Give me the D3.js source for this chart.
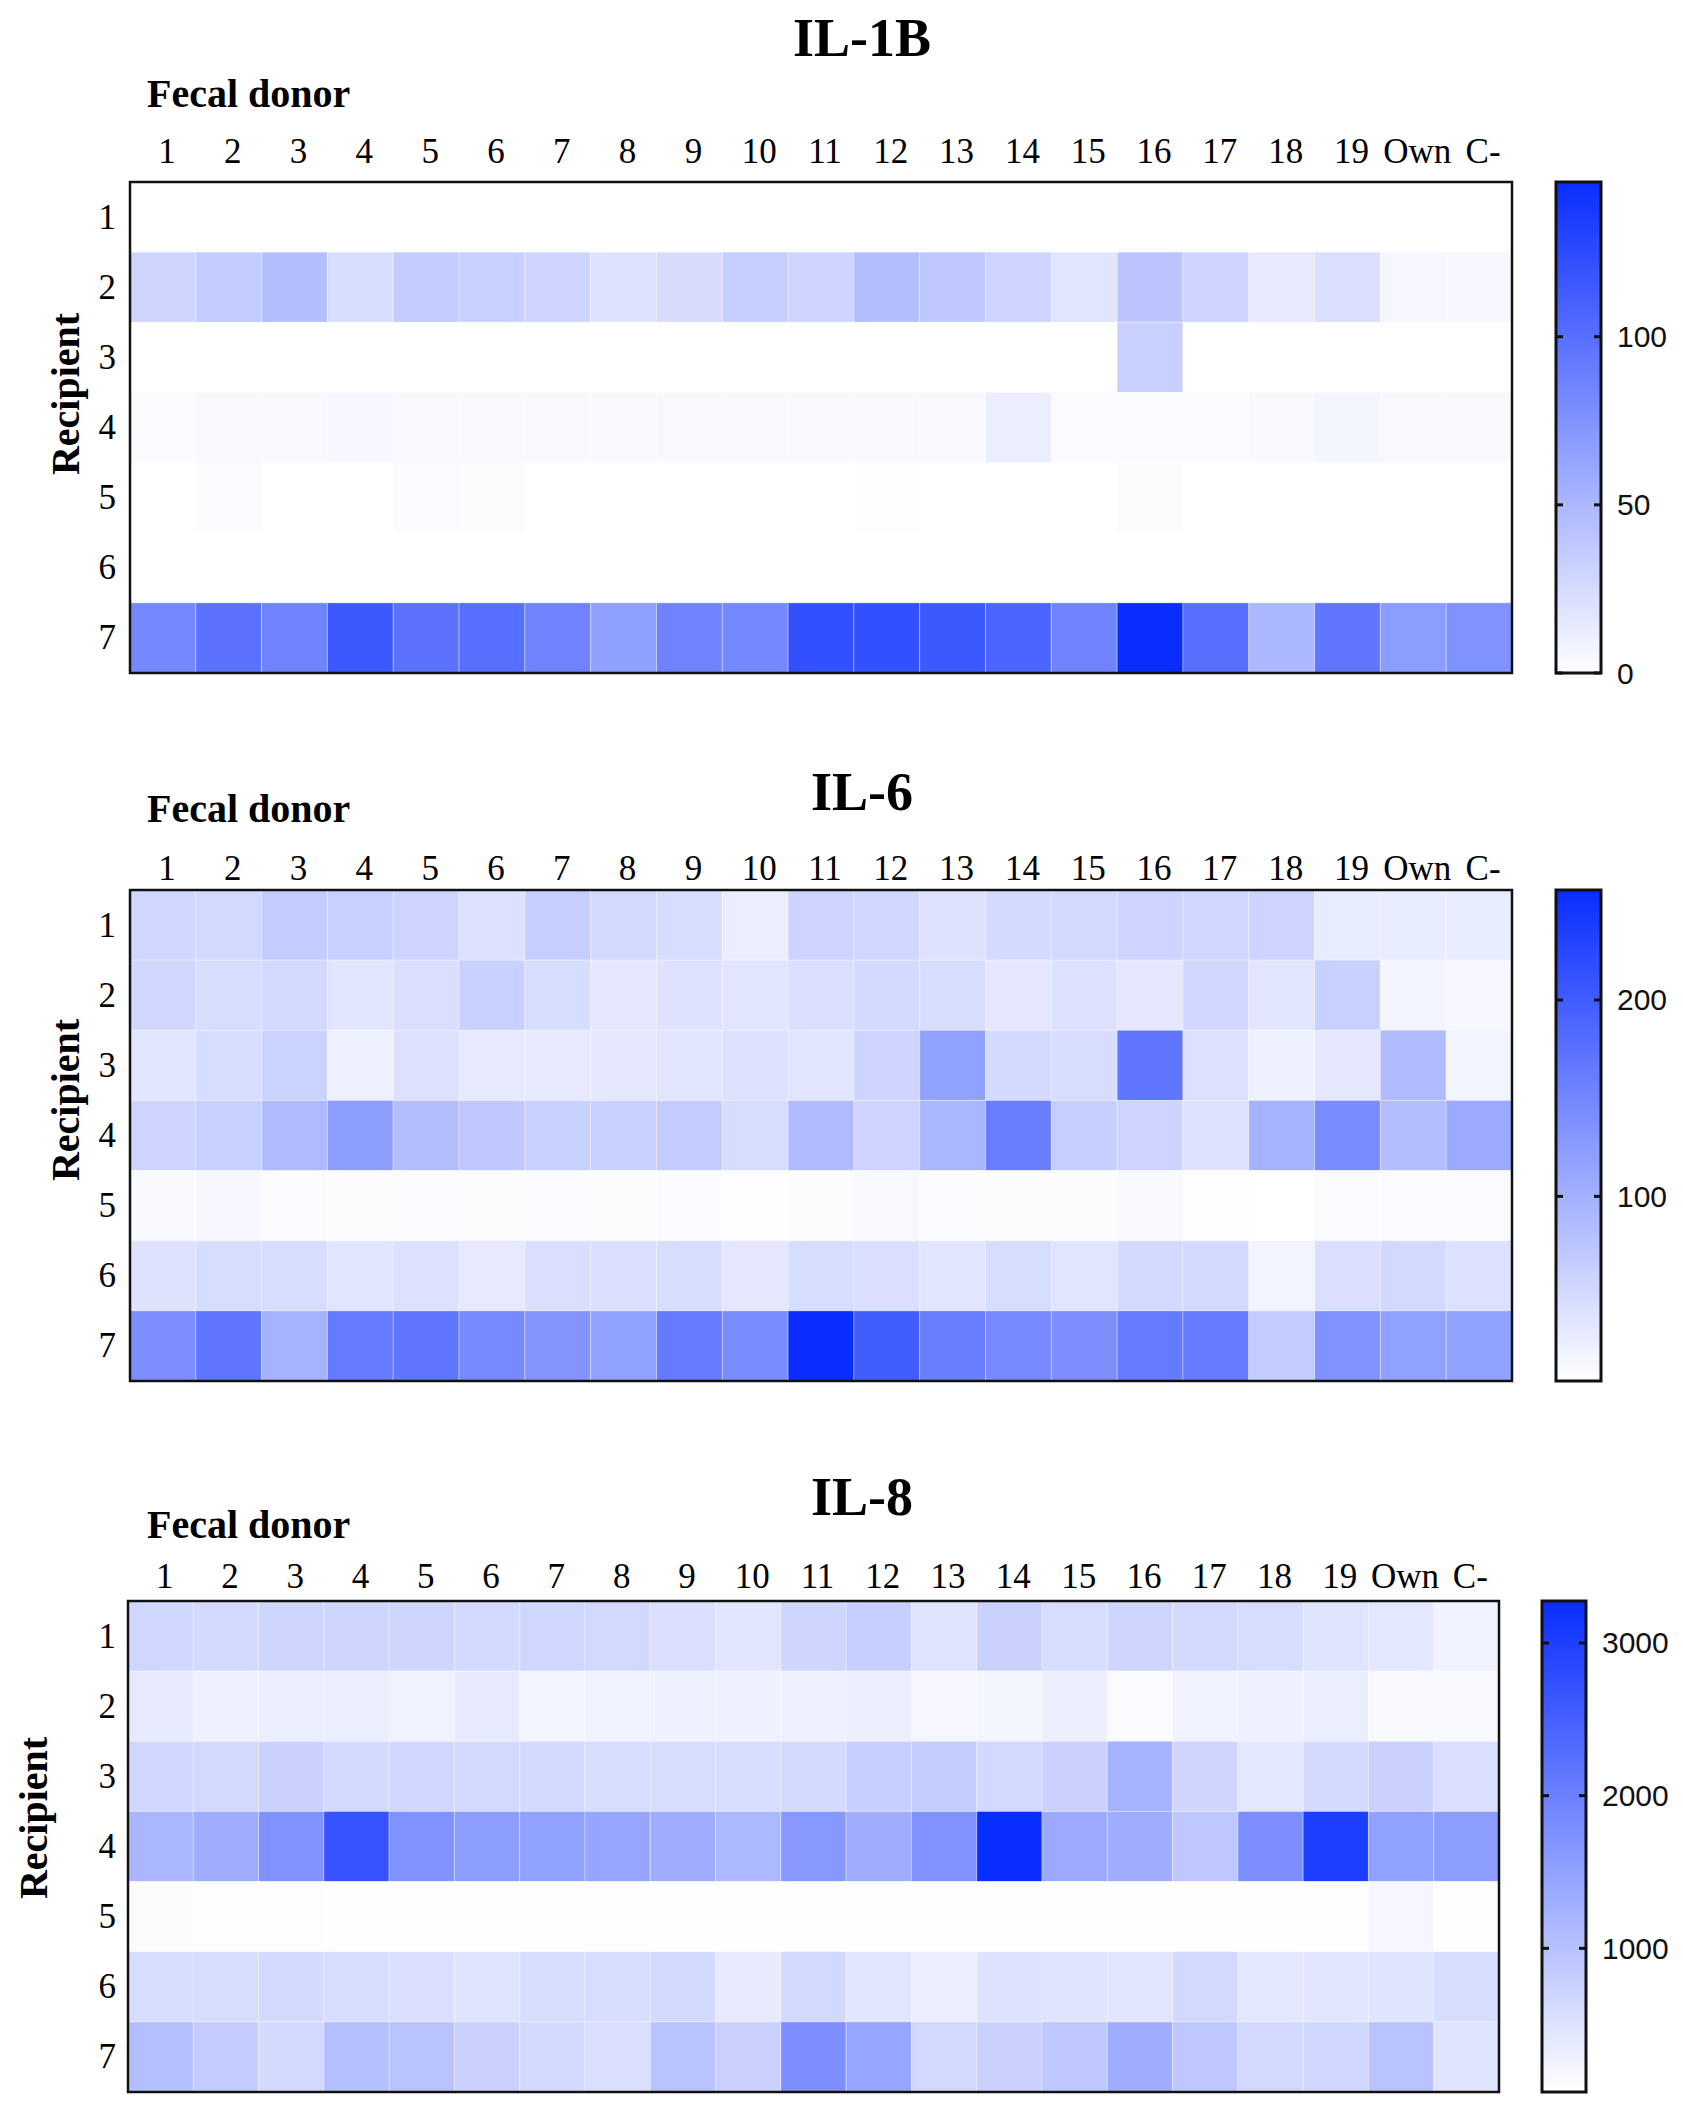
<!DOCTYPE html>
<html>
<head>
<meta charset="utf-8">
<script src="https://cdn.jsdelivr.net/npm/d3@7"></script>
<style>
  body { margin: 0; background: #fff; }
</style>
</head>
<body>
<div id="chart"></div>
<script>
// Data
const donors = ['1','2','3','4','5','6','7','8','9','10','11','12','13','14','15','16','17','18','19','Own','C-']
const recipients = ['1','2','3','4','5','6','7']

// IL-1B, one row per recipient
const il1b = [
	[0,0,0,0,0,0,0,0,0,0,0,0,0,0,0,0,0,0,0,0,0],
	[29,36,45,23,36,33,30,20,24,34,30,45,39,30,18,40,30,15,22,6,5],
	[0,0,0,0,0,0,0,0,0,0,0,0,0,0,0,33,0,0,0,0,0],
	[3,4,4,6,4,4,4,4,4,4,4,4,4,12,3,3,3,4,7,4,4],
	[0,3,0,0,3,2,0,0,0,0,0,1,0,0,0,2,0,0,0,0,0],
	[0,0,0,0,0,0,0,0,0,0,0,0,0,0,0,0,0,0,0,0,0],
	[83,98,86,116,98,100,86,66,86,83,122,122,116,107,86,146,100,50,95,68,76]
]
// IL-6
const il6 = [
	[54,52,67,62,57,42,64,52,47,26,57,54,40,50,52,57,54,57,29,29,29],
	[54,47,52,37,44,62,47,34,40,37,44,50,47,34,42,34,54,37,62,19,14],
	[37,47,60,23,42,32,32,34,37,42,37,57,118,50,47,169,42,23,34,88,19],
	[57,62,88,123,83,72,62,62,67,47,88,57,93,159,64,57,40,98,144,83,108],
	[12,15,11,9,10,9,10,9,10,8,9,13,10,9,9,13,8,6,11,11,11],
	[40,47,47,37,42,32,44,44,47,34,47,44,37,47,37,50,52,19,44,52,42],
	[139,169,98,164,169,146,133,118,164,144,256,200,159,146,139,164,164,67,136,118,118]
]
// IL-8
const il8 = [
	[670,625,700,700,700,625,670,650,545,450,700,790,480,760,580,700,625,580,480,410,255],
	[380,280,320,320,255,360,230,255,280,280,280,300,190,200,300,125,255,280,320,150,150],
	[670,650,760,625,670,650,625,580,580,580,625,790,820,650,760,1240,700,410,625,760,545],
	[1180,1310,1730,2690,1730,1570,1500,1440,1310,1150,1630,1310,1730,3275,1370,1310,910,1770,3020,1500,1570],
	[100,90,85,75,80,80,80,85,80,75,80,85,90,80,80,80,80,75,80,190,80],
	[580,580,625,580,545,480,580,580,625,360,650,450,320,510,480,450,650,410,450,480,580],
	[1040,840,625,1040,980,760,625,545,980,760,1770,1440,650,760,910,1310,910,650,670,980,480]
]

const titles = ['IL-1B', 'IL-6', 'IL-8']
const domains = [[0, 146], [6, 256], [59, 3275]]
const cbarTicks = [[0, 50, 100], [100, 200], [1000, 2000, 3000]]

// Layout of each panel (pixels)
const panels = [
	{ values: il1b, titleY: 56, labelY: 107, colY: 163, top: 182, left: 130, right: 1512, cbX: 1556, cbW: 45, recX: 65, recY: 394 },
	{ values: il6, titleY: 810, labelY: 822, colY: 880, top: 890, left: 130, right: 1512, cbX: 1556, cbW: 45, recX: 65, recY: 1100 },
	{ values: il8, titleY: 1515, labelY: 1538, colY: 1588, top: 1601, left: 128, right: 1499, cbX: 1542, cbW: 44, recX: 33, recY: 1818 }
]
const plotHeight = 491

const serif = '"Liberation Serif", "Times New Roman", serif'
const sans = '"Liberation Sans", Arial, sans-serif'
const lowColor = '#ffffff'
const highColor = '#0a2dff'

const svg = d3.select('#chart')
	.append('svg')
	.attr('width', 1683)
	.attr('height', 2115)
	.style('background', '#fff')

const defs = svg.append('defs')

panels.forEach((p, i) => {
	const g = svg.append('g')
	const bottom = p.top + plotHeight

	// Scales
	const xScale = d3.scaleBand()
		.domain(donors)
		.range([p.left, p.right])
	const yScale = d3.scaleBand()
		.domain(recipients)
		.range([p.top, bottom])
	const color = d3.scaleLinear()
		.domain(domains[i])
		.range([lowColor, highColor])
		.interpolate(d3.interpolateRgb)
		.clamp(true)
	const cbScale = d3.scaleLinear()
		.domain(domains[i])
		.range([bottom, p.top])

	// Titles
	g.append('text')
		.attr('x', 862)
		.attr('y', p.titleY)
		.attr('text-anchor', 'middle')
		.style('font-family', serif)
		.style('font-weight', 'bold')
		.style('font-size', '54px')
		.text(titles[i])

	g.append('text')
		.attr('x', 147)
		.attr('y', p.labelY)
		.style('font-family', serif)
		.style('font-weight', 'bold')
		.style('font-size', '40px')
		.text('Fecal donor')

	g.append('text')
		.attr('transform', `translate(${p.recX}, ${p.recY}) rotate(-90)`)
		.attr('text-anchor', 'middle')
		.attr('dominant-baseline', 'central')
		.style('font-family', serif)
		.style('font-weight', 'bold')
		.style('font-size', '40px')
		.text('Recipient')

	// Cells
	const cells = []
	p.values.forEach((row, r) => {
		row.forEach((v, c) => cells.push({ r: recipients[r], c: donors[c], v }))
	})
	g.selectAll('rect.cell')
		.data(cells)
		.join('rect')
		.attr('class', 'cell')
		.attr('x', d => xScale(d.c))
		.attr('y', d => yScale(d.r))
		.attr('width', xScale.bandwidth())
		.attr('height', yScale.bandwidth())
		.attr('fill', d => color(d.v))
		.attr('stroke', 'rgba(255,255,255,0.35)')
		.attr('stroke-width', 1)

	g.append('rect')
		.attr('x', p.left)
		.attr('y', p.top)
		.attr('width', p.right - p.left)
		.attr('height', plotHeight)
		.attr('fill', 'none')
		.attr('stroke', '#111')
		.attr('stroke-width', 2.5)

	// Axis labels
	g.selectAll('text.col')
		.data(donors)
		.join('text')
		.attr('class', 'col')
		.attr('x', d => xScale(d) + xScale.bandwidth() / 2 + 4)
		.attr('y', p.colY)
		.attr('text-anchor', 'middle')
		.style('font-family', serif)
		.style('font-size', '35px')
		.text(d => d)

	g.selectAll('text.row')
		.data(recipients)
		.join('text')
		.attr('class', 'row')
		.attr('x', 116)
		.attr('y', d => yScale(d) + yScale.bandwidth() / 2)
		.attr('text-anchor', 'end')
		.attr('dominant-baseline', 'central')
		.style('font-family', serif)
		.style('font-size', '35px')
		.text(d => d)

	// Colour bar
	const gradId = `grad${i}`
	const grad = defs.append('linearGradient')
		.attr('id', gradId)
		.attr('x1', 0).attr('y1', 1)
		.attr('x2', 0).attr('y2', 0)
	grad.append('stop').attr('offset', '0%').attr('stop-color', lowColor)
	grad.append('stop').attr('offset', '100%').attr('stop-color', highColor)

	g.append('rect')
		.attr('x', p.cbX)
		.attr('y', p.top)
		.attr('width', p.cbW)
		.attr('height', plotHeight)
		.attr('fill', `url(#${gradId})`)
		.attr('stroke', '#111')
		.attr('stroke-width', 3)

	const ticks = cbarTicks[i]
	g.selectAll('line.tl')
		.data(ticks)
		.join('line')
		.attr('class', 'tl')
		.attr('x1', p.cbX).attr('x2', p.cbX + 7)
		.attr('y1', d => cbScale(d)).attr('y2', d => cbScale(d))
		.attr('stroke', '#111').attr('stroke-width', 3)
	g.selectAll('line.tr')
		.data(ticks)
		.join('line')
		.attr('class', 'tr')
		.attr('x1', p.cbX + p.cbW - 7).attr('x2', p.cbX + p.cbW)
		.attr('y1', d => cbScale(d)).attr('y2', d => cbScale(d))
		.attr('stroke', '#111').attr('stroke-width', 3)
	g.selectAll('text.tick')
		.data(ticks)
		.join('text')
		.attr('class', 'tick')
		.attr('x', p.cbX + p.cbW + 16)
		.attr('y', d => cbScale(d))
		.attr('dominant-baseline', 'central')
		.style('font-family', sans)
		.style('font-size', '30px')
		.style('fill', '#111')
		.text(d => d)
})
</script>
</body>
</html>
